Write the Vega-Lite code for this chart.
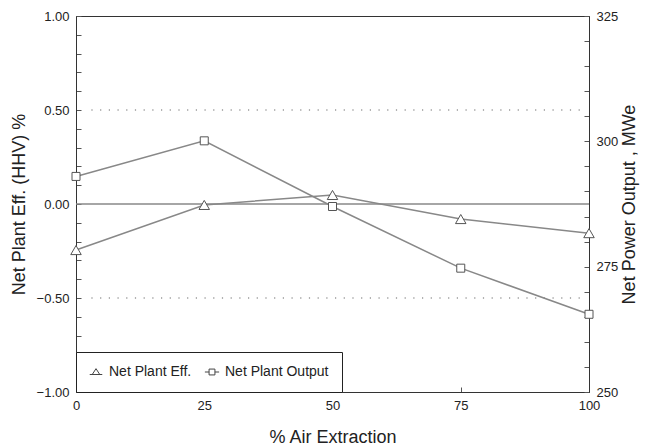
{
  "$schema": "https://vega.github.io/schema/vega-lite/v6.json",
  "width": 513,
  "height": 376,
  "autosize": "none",
  "padding": {"left": 76, "top": 16, "right": 60, "bottom": 54},
  "background": "white",
  "config": {
    "font": "Liberation Sans",
    "view": {"stroke": "#333", "strokeWidth": 1},
    "axis": {
      "labelFont": "Liberation Sans",
      "titleFont": "Liberation Sans",
      "labelFontSize": 13,
      "titleFontSize": 18,
      "titleFontWeight": "normal",
      "labelColor": "#222",
      "titleColor": "#222",
      "domainColor": "#333",
      "tickColor": "#555",
      "grid": false,
      "labelFlush": false
    }
  },
  "datasets": {
    "series": [
      {"x": 0, "series": "Net Plant Eff.", "value": -0.245},
      {"x": 25, "series": "Net Plant Eff.", "value": -0.005},
      {"x": 50, "series": "Net Plant Eff.", "value": 0.048},
      {"x": 75, "series": "Net Plant Eff.", "value": -0.08},
      {"x": 100, "series": "Net Plant Eff.", "value": -0.155},
      {"x": 0, "series": "Net Plant Output", "value": 293.0},
      {"x": 25, "series": "Net Plant Output", "value": 300.1},
      {"x": 50, "series": "Net Plant Output", "value": 287.0},
      {"x": 75, "series": "Net Plant Output", "value": 274.7},
      {"x": 100, "series": "Net Plant Output", "value": 265.5}
    ],
    "refs": [
      {"value": 0.5, "kind": "dotted", "x0": 3, "x1": 99},
      {"value": -0.5, "kind": "dotted", "x0": 3, "x1": 99},
      {"value": 0, "kind": "solid", "x0": 0, "x1": 100}
    ]
  },
  "encoding": {
    "x": {
      "field": "x",
      "type": "quantitative",
      "scale": {"domain": [0, 100], "nice": false, "zero": false},
      "axis": {
        "title": "% Air Extraction",
        "values": [0, 25, 50, 75, 100],
        "tickSize": -5,
        "labelPadding": 12,
        "titlePadding": 16
      }
    }
  },
  "layer": [
    {
      "encoding": {
        "y": {
          "field": "value",
          "type": "quantitative",
          "scale": {"domain": [-1, 1], "nice": false, "zero": false},
          "axis": {
            "orient": "left",
            "title": "Net Plant Eff. (HHV) %",
            "values": [-1, -0.9, -0.8, -0.7, -0.6, -0.5, -0.4, -0.3, -0.2, -0.1, 0, 0.1, 0.2, 0.3, 0.4, 0.5, 0.6, 0.7, 0.8, 0.9, 1],
            "labelExpr": "abs(datum.value*2 - round(datum.value*2)) < 1e-6 ? format(datum.value, '.2f') : ''",
            "tickSize": -5,
            "labelPadding": 12,
            "titlePadding": 8
          }
        }
      },
      "layer": [
        {
          "data": {"name": "refs"},
          "transform": [{"filter": "datum.kind === 'dotted'"}],
          "mark": {"type": "rule", "color": "#666", "strokeWidth": 1.2, "strokeDash": [1.2, 7.5]},
          "encoding": {
            "x": {"field": "x0", "type": "quantitative"},
            "x2": {"field": "x1"}
          }
        },
        {
          "data": {"name": "refs"},
          "transform": [{"filter": "datum.kind === 'solid'"}],
          "mark": {"type": "rule", "color": "#888", "strokeWidth": 1.3},
          "encoding": {
            "x": {"field": "x0", "type": "quantitative"},
            "x2": {"field": "x1"}
          }
        },
        {
          "data": {"name": "series"},
          "transform": [{"filter": "datum.series === 'Net Plant Eff.'"}],
          "mark": {"type": "line", "color": "#888", "strokeWidth": 1.5},
          "encoding": {}
        },
        {
          "data": {"name": "series"},
          "transform": [{"filter": "datum.series === 'Net Plant Eff.'"}],
          "mark": {"type": "point", "shape": "triangle-up", "filled": true, "fill": "white", "stroke": "#555", "strokeWidth": 1, "opacity": 1, "size": 110},
          "encoding": {}
        },
        {
          "data": {"name": "series"},
          "transform": [{"filter": "datum.series === 'Net Plant Eff.'"}],
          "mark": {"type": "point", "filled": false, "stroke": "#444", "strokeWidth": 1, "opacity": 0, "size": 70},
          "encoding": {
            "shape": {
              "field": "series",
              "type": "nominal",
              "scale": {
                "domain": ["Net Plant Eff.", "Net Plant Output"],
                "range": ["M-1.5,0.6H1.5M-0.9,0.6L0,-0.8L0.9,0.6", "M-1.7,0H-0.7M0.7,0H1.7M-0.7,-0.7H0.7V0.7H-0.7Z"]
              },
              "legend": {
                "title": null,
                "orient": "bottom-left",
                "offset": 0,
                "direction": "horizontal",
                "strokeColor": "#222",
                "fillColor": "white",
                "padding": 13,
                "labelFontSize": 14,
                "labelFont": "Liberation Sans",
                "labelColor": "#222",
                "symbolSize": 70,
                "symbolOpacity": 1,
                "symbolStrokeColor": "#444",
                "symbolFillColor": "transparent",
                "symbolStrokeWidth": 1,
                "columnPadding": 10,
                "labelOffset": 6
              }
            }
          }
        }
      ]
    },
    {
      "encoding": {
        "y": {
          "field": "value",
          "type": "quantitative",
          "scale": {"domain": [250, 325], "nice": false, "zero": false},
          "axis": {
            "orient": "right",
            "title": "Net Power Output , MWe",
            "titleAngle": -90,
            "values": [250, 255, 260, 265, 270, 275, 280, 285, 290, 295, 300, 305, 310, 315, 320, 325],
            "labelExpr": "datum.value % 25 === 0 ? datum.label : ''",
            "tickSize": -5,
            "labelPadding": 12,
            "titlePadding": 21
          }
        }
      },
      "layer": [
        {
          "data": {"name": "series"},
          "transform": [{"filter": "datum.series === 'Net Plant Output'"}],
          "mark": {"type": "line", "color": "#888", "strokeWidth": 1.5},
          "encoding": {}
        },
        {
          "data": {"name": "series"},
          "transform": [{"filter": "datum.series === 'Net Plant Output'"}],
          "mark": {"type": "point", "shape": "square", "filled": true, "fill": "white", "stroke": "#555", "strokeWidth": 1, "opacity": 1, "size": 64},
          "encoding": {}
        }
      ]
    }
  ],
  "resolve": {"scale": {"y": "independent"}}
}
